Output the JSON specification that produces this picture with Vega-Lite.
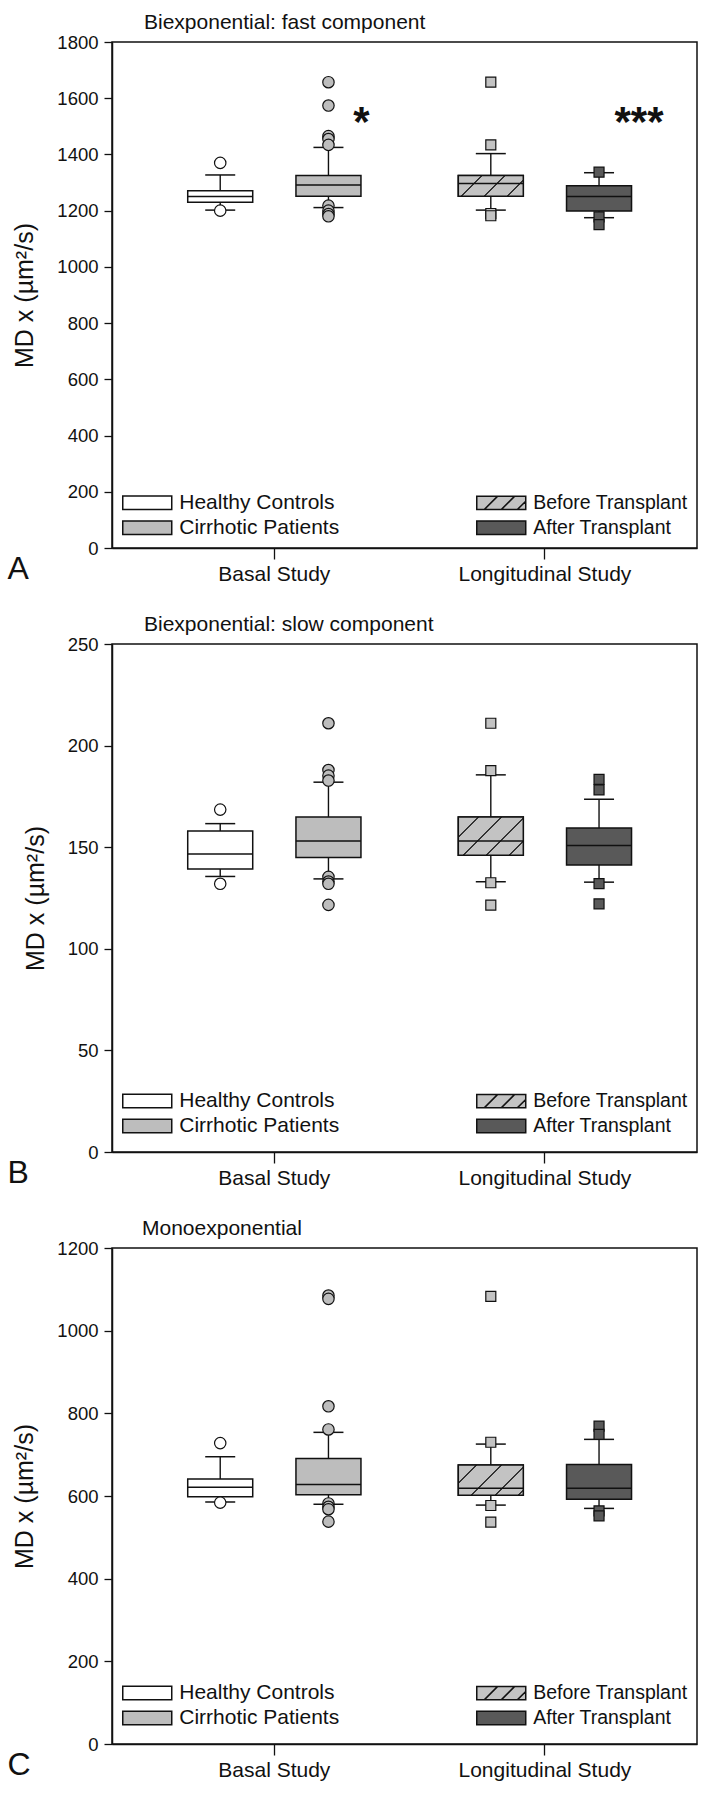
{
  "$schema": "https://vega.github.io/schema/vega-lite/v6.json",
  "background": "white",
  "padding": {"top": 11, "left": 6, "right": 0, "bottom": 0},
  "spacing": 28,
  "datasets": {
    "statsA": [
      {"group": "Healthy Controls", "lo": 1202, "q1": 1230, "med": 1250, "q3": 1271, "hi": 1327},
      {"group": "Cirrhotic Patients", "lo": 1211, "q1": 1251, "med": 1291, "q3": 1325, "hi": 1425},
      {"group": "Before Transplant", "lo": 1202, "q1": 1251, "med": 1297, "q3": 1325, "hi": 1403},
      {"group": "After Transplant", "lo": 1175, "q1": 1199, "med": 1250, "q3": 1289, "hi": 1335}
    ],
    "outA": [
      {"group": "Healthy Controls", "value": 1370}, {"group": "Healthy Controls", "value": 1200},
      {"group": "Cirrhotic Patients", "value": 1657}, {"group": "Cirrhotic Patients", "value": 1574},
      {"group": "Cirrhotic Patients", "value": 1465}, {"group": "Cirrhotic Patients", "value": 1455},
      {"group": "Cirrhotic Patients", "value": 1434}, {"group": "Cirrhotic Patients", "value": 1218},
      {"group": "Cirrhotic Patients", "value": 1200}, {"group": "Cirrhotic Patients", "value": 1188},
      {"group": "Cirrhotic Patients", "value": 1180},
      {"group": "Before Transplant", "value": 1657}, {"group": "Before Transplant", "value": 1434},
      {"group": "Before Transplant", "value": 1190}, {"group": "Before Transplant", "value": 1182},
      {"group": "After Transplant", "value": 1337}, {"group": "After Transplant", "value": 1178},
      {"group": "After Transplant", "value": 1150}
    ],
    "starA": [
      {"group": "Cirrhotic Patients", "value": 1551, "label": "*"},
      {"group": "After Transplant", "value": 1551, "label": "***"}
    ],
    "statsB": [
      {"group": "Healthy Controls", "lo": 135.6, "q1": 139.3, "med": 146.6, "q3": 158, "hi": 161.6},
      {"group": "Cirrhotic Patients", "lo": 134.4, "q1": 144.9, "med": 153.1, "q3": 164.9, "hi": 182},
      {"group": "Before Transplant", "lo": 133, "q1": 146, "med": 153.1, "q3": 164.9, "hi": 185.6},
      {"group": "After Transplant", "lo": 132.8, "q1": 141.3, "med": 150.8, "q3": 159.5, "hi": 173.6}
    ],
    "outB": [
      {"group": "Healthy Controls", "value": 168.5}, {"group": "Healthy Controls", "value": 132},
      {"group": "Cirrhotic Patients", "value": 211}, {"group": "Cirrhotic Patients", "value": 188},
      {"group": "Cirrhotic Patients", "value": 185.2}, {"group": "Cirrhotic Patients", "value": 182.8},
      {"group": "Cirrhotic Patients", "value": 135.4}, {"group": "Cirrhotic Patients", "value": 133.1},
      {"group": "Cirrhotic Patients", "value": 132}, {"group": "Cirrhotic Patients", "value": 121.6},
      {"group": "Before Transplant", "value": 211}, {"group": "Before Transplant", "value": 187.7},
      {"group": "Before Transplant", "value": 132.5}, {"group": "Before Transplant", "value": 121.5},
      {"group": "After Transplant", "value": 183.4}, {"group": "After Transplant", "value": 178.2},
      {"group": "After Transplant", "value": 132.1}, {"group": "After Transplant", "value": 122.1}
    ],
    "statsC": [
      {"group": "Healthy Controls", "lo": 585.5, "q1": 598.4, "med": 621, "q3": 641, "hi": 695},
      {"group": "Cirrhotic Patients", "lo": 580, "q1": 603, "med": 628, "q3": 691, "hi": 754},
      {"group": "Before Transplant", "lo": 578, "q1": 601.6, "med": 618.5, "q3": 675, "hi": 725.6},
      {"group": "After Transplant", "lo": 570, "q1": 592, "med": 619, "q3": 676, "hi": 737}
    ],
    "outC": [
      {"group": "Healthy Controls", "value": 728}, {"group": "Healthy Controls", "value": 584},
      {"group": "Cirrhotic Patients", "value": 1085}, {"group": "Cirrhotic Patients", "value": 1077},
      {"group": "Cirrhotic Patients", "value": 817}, {"group": "Cirrhotic Patients", "value": 761},
      {"group": "Cirrhotic Patients", "value": 582}, {"group": "Cirrhotic Patients", "value": 574},
      {"group": "Cirrhotic Patients", "value": 568}, {"group": "Cirrhotic Patients", "value": 538},
      {"group": "Before Transplant", "value": 1083}, {"group": "Before Transplant", "value": 730},
      {"group": "Before Transplant", "value": 577}, {"group": "Before Transplant", "value": 537},
      {"group": "After Transplant", "value": 769}, {"group": "After Transplant", "value": 749},
      {"group": "After Transplant", "value": 564}, {"group": "After Transplant", "value": 552}
    ]
  },
  "vconcat": [
    {
      "width": 585, "height": 506,
      "title": {"text": "Biexponential: fast component", "anchor": "start", "frame": "group", "dx": 32, "fontSize": 21, "fontWeight": "normal", "offset": 0, "color": "#111"},
      "data": {"name": "statsA"},
      "encoding": {
        "x": {"field": "group", "type": "nominal", "sort": null,
          "scale": {"domain": ["e1", "Healthy Controls", "Basal Study", "Cirrhotic Patients", "gap1", "gap2", "Before Transplant", "Longitudinal Study", "After Transplant", "e2"], "paddingInner": 0, "paddingOuter": 0.405, "align": 0.617},
          "axis": {"values": ["Basal Study", "Longitudinal Study"], "labelAngle": 0, "labelFontSize": 21, "labelPadding": 4, "tickSize": 11, "title": "A", "titleFontSize": 32, "titleFontWeight": "normal", "titleX": -105, "titleY": 30, "titleAlign": "left", "titleBaseline": "alphabetic", "titleAnchor": "start"}}
      },
      "layer": [
        {"mark": {"type": "rule", "color": "#111", "strokeWidth": 1.4}, "encoding": {"y": {"field": "q3", "type": "quantitative", "scale": {"domain": [0, 1800], "nice": false}}, "y2": {"field": "hi"}}},
        {"mark": {"type": "rule", "color": "#111", "strokeWidth": 1.4}, "encoding": {"y": {"field": "lo", "type": "quantitative", "scale": {"domain": [0, 1800], "nice": false}}, "y2": {"field": "q1"}}},
        {"mark": {"type": "bar", "width": 65, "stroke": "#111", "strokeWidth": 1.5, "opacity": 1},
          "encoding": {
            "y": {"field": "q1", "type": "quantitative", "scale": {"domain": [0, 1800], "nice": false},
              "axis": {"values": [0, 200, 400, 600, 800, 1000, 1200, 1400, 1600, 1800], "format": "d", "title": "MD x (µm²/s)", "labelFontSize": 18.5, "titleFontSize": 25, "titleFontWeight": "normal", "tickSize": 8, "labelPadding": 6, "titlePadding": 19}},
            "y2": {"field": "q3"},
            "fill": {"field": "group", "type": "nominal",
              "scale": {"domain": ["Healthy Controls", "Cirrhotic Patients", "Before Transplant", "After Transplant"], "range": ["#ffffff", "#bdbdbd", "#c3c3c3", "#595959"]},
              "legend": {"title": null, "legendX": 22.25, "legendY": 447.75,
                "encoding": {
                  "symbols": {"stroke": {"value": "#111"}, "strokeWidth": {"value": 1.5}, "fillOpacity": {"value": 1},
                    "shape": {"condition": {"test": "datum.value === 'Before Transplant'", "value": "M-2,-0.55L2,-0.55L2,0.55L-2,0.55Z M-1.39,0.55L-0.29,-0.55 M0,0.55L1.1,-0.55 M1.31,0.55L2,-0.14"}, "value": "M-2,-0.55L2,-0.55L2,0.55L-2,0.55Z"}},
                  "labels": {"fontSize": {"condition": {"test": "datum.value === 'Before Transplant' || datum.value === 'After Transplant'", "value": 19.5}, "value": 21}}}}}
          }},
        {"transform": [{"filter": "datum.group === 'Before Transplant'"}],
          "mark": {"type": "bar", "width": 65, "stroke": "#111", "strokeWidth": 1.5,
            "fill": {"gradient": "linear", "x1": 0, "y1": 0, "x2": 1.1974, "y2": 0.3832, "stops": [{"offset": 0, "color": "#c3c3c3"}, {"offset": 0.263, "color": "#c3c3c3"}, {"offset": 0.263, "color": "#333333"}, {"offset": 0.285, "color": "#333333"}, {"offset": 0.285, "color": "#c3c3c3"}, {"offset": 0.531, "color": "#c3c3c3"}, {"offset": 0.531, "color": "#333333"}, {"offset": 0.553, "color": "#333333"}, {"offset": 0.553, "color": "#c3c3c3"}, {"offset": 0.799, "color": "#c3c3c3"}, {"offset": 0.799, "color": "#333333"}, {"offset": 0.821, "color": "#333333"}, {"offset": 0.821, "color": "#c3c3c3"}, {"offset": 1, "color": "#c3c3c3"}]}},
          "encoding": {"y": {"field": "q1", "type": "quantitative", "scale": {"domain": [0, 1800], "nice": false}}, "y2": {"field": "q3"}}},
        {"mark": {"type": "tick", "size": 65, "thickness": 1.5, "color": "#111", "opacity": 1}, "encoding": {"y": {"field": "med", "type": "quantitative", "scale": {"domain": [0, 1800], "nice": false}}}},
        {"mark": {"type": "tick", "size": 30, "thickness": 1.5, "color": "#111", "opacity": 1}, "encoding": {"y": {"field": "hi", "type": "quantitative", "scale": {"domain": [0, 1800], "nice": false}}}},
        {"mark": {"type": "tick", "size": 30, "thickness": 1.5, "color": "#111", "opacity": 1}, "encoding": {"y": {"field": "lo", "type": "quantitative", "scale": {"domain": [0, 1800], "nice": false}}}},
        {"data": {"name": "outA"}, "transform": [{"filter": "datum.group === 'Healthy Controls' || datum.group === 'Cirrhotic Patients'"}],
          "mark": {"type": "point", "shape": "circle", "filled": true, "stroke": "#111", "strokeWidth": 1.2, "opacity": 1, "size": 130},
          "encoding": {
            "y": {"field": "value", "type": "quantitative", "scale": {"domain": [0, 1800], "nice": false}},
            "fill": {"condition": {"test": "datum.group === 'Healthy Controls'", "value": "#ffffff"}, "value": "#bdbdbd"}}},
        {"data": {"name": "outA"}, "transform": [{"filter": "datum.group === 'Before Transplant' || datum.group === 'After Transplant'"}],
          "mark": {"type": "point", "shape": "square", "filled": true, "stroke": "#111", "strokeWidth": 1.2, "opacity": 1, "size": 100},
          "encoding": {
            "y": {"field": "value", "type": "quantitative", "scale": {"domain": [0, 1800], "nice": false}},
            "fill": {"condition": {"test": "datum.group === 'Before Transplant'", "value": "#c3c3c3"}, "value": "#595959"}}},
        {"data": {"name": "starA"}, "transform": [{"filter": "datum.label === '*'"}],
          "mark": {"type": "text", "fontSize": 42, "fontWeight": "bold", "color": "#111", "align": "center", "baseline": "alphabetic", "dx": 33, "dy": 24},
          "encoding": {"y": {"field": "value", "type": "quantitative", "scale": {"domain": [0, 1800], "nice": false}}, "text": {"field": "label"}}},
        {"data": {"name": "starA"}, "transform": [{"filter": "datum.label === '***'"}],
          "mark": {"type": "text", "fontSize": 42, "fontWeight": "bold", "color": "#111", "align": "center", "baseline": "alphabetic", "dx": 40, "dy": 24},
          "encoding": {"y": {"field": "value", "type": "quantitative", "scale": {"domain": [0, 1800], "nice": false}}, "text": {"field": "label"}}}
      ]
    },
    {
      "width": 585, "height": 508,
      "title": {"text": "Biexponential: slow component", "anchor": "start", "frame": "group", "dx": 32, "fontSize": 21, "fontWeight": "normal", "offset": 0, "color": "#111"},
      "data": {"name": "statsB"},
      "encoding": {
        "x": {"field": "group", "type": "nominal", "sort": null,
          "scale": {"domain": ["e1", "Healthy Controls", "Basal Study", "Cirrhotic Patients", "gap1", "gap2", "Before Transplant", "Longitudinal Study", "After Transplant", "e2"], "paddingInner": 0, "paddingOuter": 0.405, "align": 0.617},
          "axis": {"values": ["Basal Study", "Longitudinal Study"], "labelAngle": 0, "labelFontSize": 21, "labelPadding": 4, "tickSize": 11, "title": "B", "titleFontSize": 32, "titleFontWeight": "normal", "titleX": -105, "titleY": 30, "titleAlign": "left", "titleBaseline": "alphabetic", "titleAnchor": "start"}}
      },
      "layer": [
        {"mark": {"type": "rule", "color": "#111", "strokeWidth": 1.4}, "encoding": {"y": {"field": "q3", "type": "quantitative", "scale": {"domain": [0, 250], "nice": false}}, "y2": {"field": "hi"}}},
        {"mark": {"type": "rule", "color": "#111", "strokeWidth": 1.4}, "encoding": {"y": {"field": "lo", "type": "quantitative", "scale": {"domain": [0, 250], "nice": false}}, "y2": {"field": "q1"}}},
        {"mark": {"type": "bar", "width": 65, "stroke": "#111", "strokeWidth": 1.5, "opacity": 1},
          "encoding": {
            "y": {"field": "q1", "type": "quantitative", "scale": {"domain": [0, 250], "nice": false},
              "axis": {"values": [0, 50, 100, 150, 200, 250], "format": "d", "title": "MD x (µm²/s)", "labelFontSize": 18.5, "titleFontSize": 25, "titleFontWeight": "normal", "tickSize": 8, "labelPadding": 6, "titlePadding": 19}},
            "y2": {"field": "q3"},
            "fill": {"field": "group", "type": "nominal",
              "scale": {"domain": ["Healthy Controls", "Cirrhotic Patients", "Before Transplant", "After Transplant"], "range": ["#ffffff", "#bdbdbd", "#c3c3c3", "#595959"]},
              "legend": {"title": null, "legendX": 22.25, "legendY": 444,
                "encoding": {
                  "symbols": {"stroke": {"value": "#111"}, "strokeWidth": {"value": 1.5}, "fillOpacity": {"value": 1},
                    "shape": {"condition": {"test": "datum.value === 'Before Transplant'", "value": "M-2,-0.55L2,-0.55L2,0.55L-2,0.55Z M-1.39,0.55L-0.29,-0.55 M0,0.55L1.1,-0.55 M1.31,0.55L2,-0.14"}, "value": "M-2,-0.55L2,-0.55L2,0.55L-2,0.55Z"}},
                  "labels": {"fontSize": {"condition": {"test": "datum.value === 'Before Transplant' || datum.value === 'After Transplant'", "value": 19.5}, "value": 21}}}}}
          }},
        {"transform": [{"filter": "datum.group === 'Before Transplant'"}],
          "mark": {"type": "bar", "width": 65, "stroke": "#111", "strokeWidth": 1.5,
            "fill": {"gradient": "linear", "x1": 0, "y1": 0, "x2": 1.1792, "y2": 0.6966, "stops": [{"offset": 0, "color": "#c3c3c3"}, {"offset": 0.184, "color": "#c3c3c3"}, {"offset": 0.184, "color": "#333333"}, {"offset": 0.202, "color": "#333333"}, {"offset": 0.202, "color": "#c3c3c3"}, {"offset": 0.407, "color": "#c3c3c3"}, {"offset": 0.407, "color": "#333333"}, {"offset": 0.425, "color": "#333333"}, {"offset": 0.425, "color": "#c3c3c3"}, {"offset": 0.629, "color": "#c3c3c3"}, {"offset": 0.629, "color": "#333333"}, {"offset": 0.647, "color": "#333333"}, {"offset": 0.647, "color": "#c3c3c3"}, {"offset": 0.852, "color": "#c3c3c3"}, {"offset": 0.852, "color": "#333333"}, {"offset": 0.87, "color": "#333333"}, {"offset": 0.87, "color": "#c3c3c3"}, {"offset": 1, "color": "#c3c3c3"}]}},
          "encoding": {"y": {"field": "q1", "type": "quantitative", "scale": {"domain": [0, 250], "nice": false}}, "y2": {"field": "q3"}}},
        {"mark": {"type": "tick", "size": 65, "thickness": 1.5, "color": "#111", "opacity": 1}, "encoding": {"y": {"field": "med", "type": "quantitative", "scale": {"domain": [0, 250], "nice": false}}}},
        {"mark": {"type": "tick", "size": 30, "thickness": 1.5, "color": "#111", "opacity": 1}, "encoding": {"y": {"field": "hi", "type": "quantitative", "scale": {"domain": [0, 250], "nice": false}}}},
        {"mark": {"type": "tick", "size": 30, "thickness": 1.5, "color": "#111", "opacity": 1}, "encoding": {"y": {"field": "lo", "type": "quantitative", "scale": {"domain": [0, 250], "nice": false}}}},
        {"data": {"name": "outB"}, "transform": [{"filter": "datum.group === 'Healthy Controls' || datum.group === 'Cirrhotic Patients'"}],
          "mark": {"type": "point", "shape": "circle", "filled": true, "stroke": "#111", "strokeWidth": 1.2, "opacity": 1, "size": 130},
          "encoding": {
            "y": {"field": "value", "type": "quantitative", "scale": {"domain": [0, 250], "nice": false}},
            "fill": {"condition": {"test": "datum.group === 'Healthy Controls'", "value": "#ffffff"}, "value": "#bdbdbd"}}},
        {"data": {"name": "outB"}, "transform": [{"filter": "datum.group === 'Before Transplant' || datum.group === 'After Transplant'"}],
          "mark": {"type": "point", "shape": "square", "filled": true, "stroke": "#111", "strokeWidth": 1.2, "opacity": 1, "size": 100},
          "encoding": {
            "y": {"field": "value", "type": "quantitative", "scale": {"domain": [0, 250], "nice": false}},
            "fill": {"condition": {"test": "datum.group === 'Before Transplant'", "value": "#c3c3c3"}, "value": "#595959"}}}
      ]
    },
    {
      "width": 585, "height": 496,
      "title": {"text": "Monoexponential", "anchor": "start", "frame": "group", "dx": 30, "fontSize": 21, "fontWeight": "normal", "offset": 0, "color": "#111"},
      "data": {"name": "statsC"},
      "encoding": {
        "x": {"field": "group", "type": "nominal", "sort": null,
          "scale": {"domain": ["e1", "Healthy Controls", "Basal Study", "Cirrhotic Patients", "gap1", "gap2", "Before Transplant", "Longitudinal Study", "After Transplant", "e2"], "paddingInner": 0, "paddingOuter": 0.405, "align": 0.617},
          "axis": {"values": ["Basal Study", "Longitudinal Study"], "labelAngle": 0, "labelFontSize": 21, "labelPadding": 4, "tickSize": 11, "title": "C", "titleFontSize": 32, "titleFontWeight": "normal", "titleX": -105, "titleY": 30, "titleAlign": "left", "titleBaseline": "alphabetic", "titleAnchor": "start"}}
      },
      "layer": [
        {"mark": {"type": "rule", "color": "#111", "strokeWidth": 1.4}, "encoding": {"y": {"field": "q3", "type": "quantitative", "scale": {"domain": [0, 1200], "nice": false}}, "y2": {"field": "hi"}}},
        {"mark": {"type": "rule", "color": "#111", "strokeWidth": 1.4}, "encoding": {"y": {"field": "lo", "type": "quantitative", "scale": {"domain": [0, 1200], "nice": false}}, "y2": {"field": "q1"}}},
        {"mark": {"type": "bar", "width": 65, "stroke": "#111", "strokeWidth": 1.5, "opacity": 1},
          "encoding": {
            "y": {"field": "q1", "type": "quantitative", "scale": {"domain": [0, 1200], "nice": false},
              "axis": {"values": [0, 200, 400, 600, 800, 1000, 1200], "format": "d", "title": "MD x (µm²/s)", "labelFontSize": 18.5, "titleFontSize": 25, "titleFontWeight": "normal", "tickSize": 8, "labelPadding": 6, "titlePadding": 19}},
            "y2": {"field": "q3"},
            "fill": {"field": "group", "type": "nominal",
              "scale": {"domain": ["Healthy Controls", "Cirrhotic Patients", "Before Transplant", "After Transplant"], "range": ["#ffffff", "#bdbdbd", "#c3c3c3", "#595959"]},
              "legend": {"title": null, "legendX": 22.25, "legendY": 432,
                "encoding": {
                  "symbols": {"stroke": {"value": "#111"}, "strokeWidth": {"value": 1.5}, "fillOpacity": {"value": 1},
                    "shape": {"condition": {"test": "datum.value === 'Before Transplant'", "value": "M-2,-0.55L2,-0.55L2,0.55L-2,0.55Z M-1.39,0.55L-0.29,-0.55 M0,0.55L1.1,-0.55 M1.31,0.55L2,-0.14"}, "value": "M-2,-0.55L2,-0.55L2,0.55L-2,0.55Z"}},
                  "labels": {"fontSize": {"condition": {"test": "datum.value === 'Before Transplant' || datum.value === 'After Transplant'", "value": 19.5}, "value": 21}}}}}
          }},
        {"transform": [{"filter": "datum.group === 'Before Transplant'"}],
          "mark": {"type": "bar", "width": 65, "stroke": "#111", "strokeWidth": 1.5,
            "fill": {"gradient": "linear", "x1": 0, "y1": 0, "x2": 1.2045, "y2": 0.5615, "stops": [{"offset": 0, "color": "#c3c3c3"}, {"offset": 0.18, "color": "#c3c3c3"}, {"offset": 0.18, "color": "#333333"}, {"offset": 0.198, "color": "#333333"}, {"offset": 0.198, "color": "#c3c3c3"}, {"offset": 0.442, "color": "#c3c3c3"}, {"offset": 0.442, "color": "#333333"}, {"offset": 0.46, "color": "#333333"}, {"offset": 0.46, "color": "#c3c3c3"}, {"offset": 0.694, "color": "#c3c3c3"}, {"offset": 0.694, "color": "#333333"}, {"offset": 0.712, "color": "#333333"}, {"offset": 0.712, "color": "#c3c3c3"}, {"offset": 0.935, "color": "#c3c3c3"}, {"offset": 0.935, "color": "#333333"}, {"offset": 0.953, "color": "#333333"}, {"offset": 0.953, "color": "#c3c3c3"}, {"offset": 1, "color": "#c3c3c3"}]}},
          "encoding": {"y": {"field": "q1", "type": "quantitative", "scale": {"domain": [0, 1200], "nice": false}}, "y2": {"field": "q3"}}},
        {"mark": {"type": "tick", "size": 65, "thickness": 1.5, "color": "#111", "opacity": 1}, "encoding": {"y": {"field": "med", "type": "quantitative", "scale": {"domain": [0, 1200], "nice": false}}}},
        {"mark": {"type": "tick", "size": 30, "thickness": 1.5, "color": "#111", "opacity": 1}, "encoding": {"y": {"field": "hi", "type": "quantitative", "scale": {"domain": [0, 1200], "nice": false}}}},
        {"mark": {"type": "tick", "size": 30, "thickness": 1.5, "color": "#111", "opacity": 1}, "encoding": {"y": {"field": "lo", "type": "quantitative", "scale": {"domain": [0, 1200], "nice": false}}}},
        {"data": {"name": "outC"}, "transform": [{"filter": "datum.group === 'Healthy Controls' || datum.group === 'Cirrhotic Patients'"}],
          "mark": {"type": "point", "shape": "circle", "filled": true, "stroke": "#111", "strokeWidth": 1.2, "opacity": 1, "size": 130},
          "encoding": {
            "y": {"field": "value", "type": "quantitative", "scale": {"domain": [0, 1200], "nice": false}},
            "fill": {"condition": {"test": "datum.group === 'Healthy Controls'", "value": "#ffffff"}, "value": "#bdbdbd"}}},
        {"data": {"name": "outC"}, "transform": [{"filter": "datum.group === 'Before Transplant' || datum.group === 'After Transplant'"}],
          "mark": {"type": "point", "shape": "square", "filled": true, "stroke": "#111", "strokeWidth": 1.2, "opacity": 1, "size": 100},
          "encoding": {
            "y": {"field": "value", "type": "quantitative", "scale": {"domain": [0, 1200], "nice": false}},
            "fill": {"condition": {"test": "datum.group === 'Before Transplant'", "value": "#c3c3c3"}, "value": "#595959"}}}
      ]
    }
  ],
  "resolve": {
    "scale": {"x": "independent", "y": "independent", "fill": "independent"},
    "legend": {"fill": "independent"}
  },
  "config": {
    "font": "Liberation Sans",
    "view": {"stroke": "#111", "strokeWidth": 1.5},
    "axis": {"domainColor": "#111", "tickColor": "#111", "labelColor": "#111", "titleColor": "#111", "domainWidth": 1.5, "tickWidth": 1.3, "grid": false, "labelFont": "Liberation Sans", "titleFont": "Liberation Sans"},
    "legend": {"orient": "none", "columns": 2, "columnPadding": 134, "rowPadding": 2, "symbolType": "M-2,-0.55L2,-0.55L2,0.55L-2,0.55Z", "symbolSize": 600, "symbolStrokeColor": "#111", "symbolStrokeWidth": 1.5, "labelFontSize": 21, "labelOffset": 19, "labelColor": "#111", "labelFont": "Liberation Sans", "labelLimit": 300}
  }
}
